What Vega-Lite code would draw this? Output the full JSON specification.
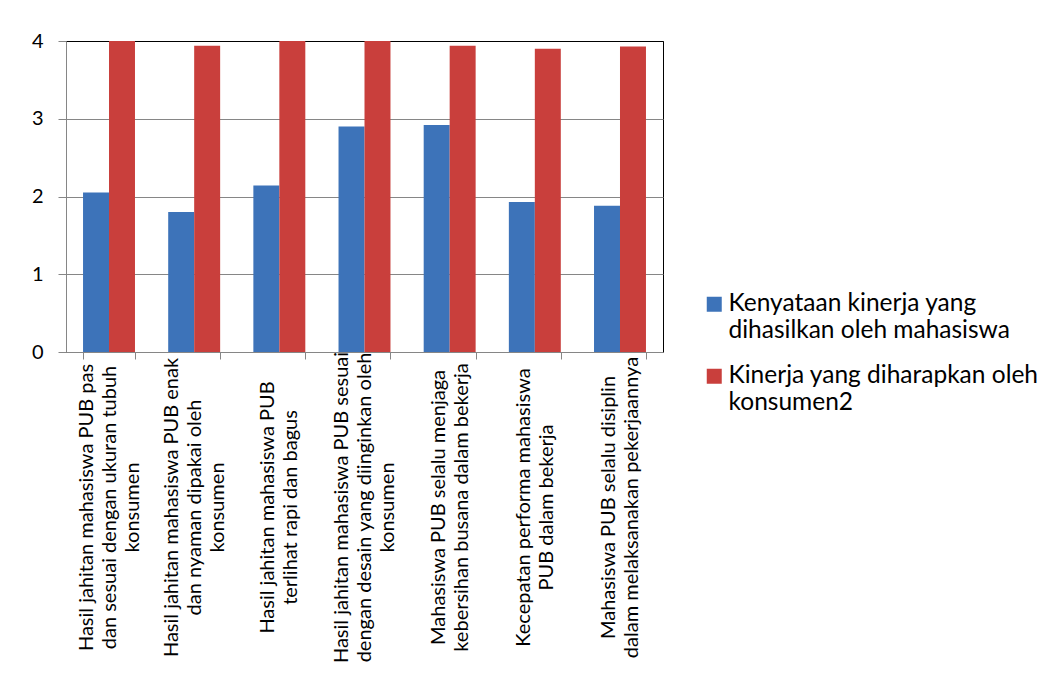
{
  "$schema": "https://vega.github.io/schema/vega-lite/v6.json",
  "width": 597,
  "height": 311,
  "autosize": {"type": "none"},
  "padding": {"left": 66, "top": 41, "right": 398, "bottom": 332},
  "background": "white",
  "data": {
    "values": [
      {"kriteria": "Hasil jahitan mahasiswa PUB pas|dan sesuai dengan ukuran tubuh|konsumen", "seri": "Kenyataan kinerja yang dihasilkan oleh mahasiswa", "nilai": 2.05},
      {"kriteria": "Hasil jahitan mahasiswa PUB pas|dan sesuai dengan ukuran tubuh|konsumen", "seri": "Kinerja yang diharapkan oleh konsumen2", "nilai": 4.0},
      {"kriteria": "Hasil jahitan mahasiswa PUB enak|dan nyaman dipakai oleh|konsumen", "seri": "Kenyataan kinerja yang dihasilkan oleh mahasiswa", "nilai": 1.80},
      {"kriteria": "Hasil jahitan mahasiswa PUB enak|dan nyaman dipakai oleh|konsumen", "seri": "Kinerja yang diharapkan oleh konsumen2", "nilai": 3.94},
      {"kriteria": "Hasil jahitan mahasiswa PUB|terlihat rapi dan bagus", "seri": "Kenyataan kinerja yang dihasilkan oleh mahasiswa", "nilai": 2.14},
      {"kriteria": "Hasil jahitan mahasiswa PUB|terlihat rapi dan bagus", "seri": "Kinerja yang diharapkan oleh konsumen2", "nilai": 4.0},
      {"kriteria": "Hasil jahitan mahasiswa PUB sesuai|dengan desain yang diinginkan oleh|konsumen", "seri": "Kenyataan kinerja yang dihasilkan oleh mahasiswa", "nilai": 2.90},
      {"kriteria": "Hasil jahitan mahasiswa PUB sesuai|dengan desain yang diinginkan oleh|konsumen", "seri": "Kinerja yang diharapkan oleh konsumen2", "nilai": 4.0},
      {"kriteria": "Mahasiswa PUB selalu menjaga|kebersihan busana dalam bekerja", "seri": "Kenyataan kinerja yang dihasilkan oleh mahasiswa", "nilai": 2.92},
      {"kriteria": "Mahasiswa PUB selalu menjaga|kebersihan busana dalam bekerja", "seri": "Kinerja yang diharapkan oleh konsumen2", "nilai": 3.94},
      {"kriteria": "Kecepatan performa mahasiswa|PUB dalam bekerja", "seri": "Kenyataan kinerja yang dihasilkan oleh mahasiswa", "nilai": 1.93},
      {"kriteria": "Kecepatan performa mahasiswa|PUB dalam bekerja", "seri": "Kinerja yang diharapkan oleh konsumen2", "nilai": 3.90},
      {"kriteria": "Mahasiswa PUB selalu disiplin|dalam melaksanakan pekerjaannya", "seri": "Kenyataan kinerja yang dihasilkan oleh mahasiswa", "nilai": 1.88},
      {"kriteria": "Mahasiswa PUB selalu disiplin|dalam melaksanakan pekerjaannya", "seri": "Kinerja yang diharapkan oleh konsumen2", "nilai": 3.93}
    ]
  },
  "mark": {"type": "bar"},
  "encoding": {
    "x": {
      "field": "kriteria",
      "type": "nominal",
      "sort": null,
      "scale": {"paddingInner": 0.39, "paddingOuter": 0.2},
      "axis": {
        "title": null,
        "labelExpr": "split(datum.label, '|')",
        "labelAngle": -90,
        "labelAlign": "center",
        "labelBaseline": "middle",
        "labelPadding": 148,
        "labelOffset": {"condition": {"test": "length(split(datum.value, '|')) == 3", "value": -23}, "value": -11.5},
        "labelFont": "Lato",
        "labelFontSize": 20,
        "labelLineHeight": 23,
        "labelColor": "#000000",
        "labelOverlap": false,
        "labelBound": false,
        "labelLimit": 0,
        "tickBand": "extent",
        "tickSize": 7,
        "tickColor": "#868686",
        "domainColor": "#868686",
        "grid": false
      }
    },
    "xOffset": {"field": "seri", "type": "nominal", "sort": null, "scale": {"paddingInner": 0, "paddingOuter": 0}},
    "y": {
      "field": "nilai",
      "type": "quantitative",
      "scale": {"domain": [0, 4], "nice": false},
      "axis": {
        "title": null,
        "values": [0, 1, 2, 3, 4],
        "labelFont": "Lato",
        "labelFontSize": 20,
        "labelColor": "#000000",
        "labelPadding": 15,
        "tickSize": 8,
        "tickColor": "#868686",
        "domainColor": "#868686",
        "grid": true,
        "gridColor": {"condition": {"test": "datum.value == 4", "value": "#000000"}, "value": "#868686"},
        "gridWidth": 1
      }
    },
    "color": {
      "field": "seri",
      "type": "nominal",
      "sort": null,
      "scale": {"range": ["#3D73B9", "#C93F3C"]},
      "legend": {
        "title": null,
        "orient": "none",
        "legendX": 636,
        "legendY": 251,
        "padding": 0,
        "symbolType": "square",
        "symbolSize": 225,
        "symbolStrokeWidth": 0,
        "labelFont": "Lato",
        "labelFontSize": 24.5,
        "labelLineHeight": 30,
        "labelBaseline": "middle",
        "labelOffset": 2,
        "labelLimit": 400,
        "labelColor": "#000000",
        "rowPadding": 20,
        "labelExpr": "datum.label == 'Kenyataan kinerja yang dihasilkan oleh mahasiswa' ? ['Kenyataan kinerja yang', 'dihasilkan oleh mahasiswa'] : ['Kinerja yang diharapkan oleh', 'konsumen2']"
      }
    }
  },
  "config": {
    "view": {"stroke": "#000000", "strokeWidth": 1},
    "axis": {"domainWidth": 1, "tickWidth": 1}
  }
}
